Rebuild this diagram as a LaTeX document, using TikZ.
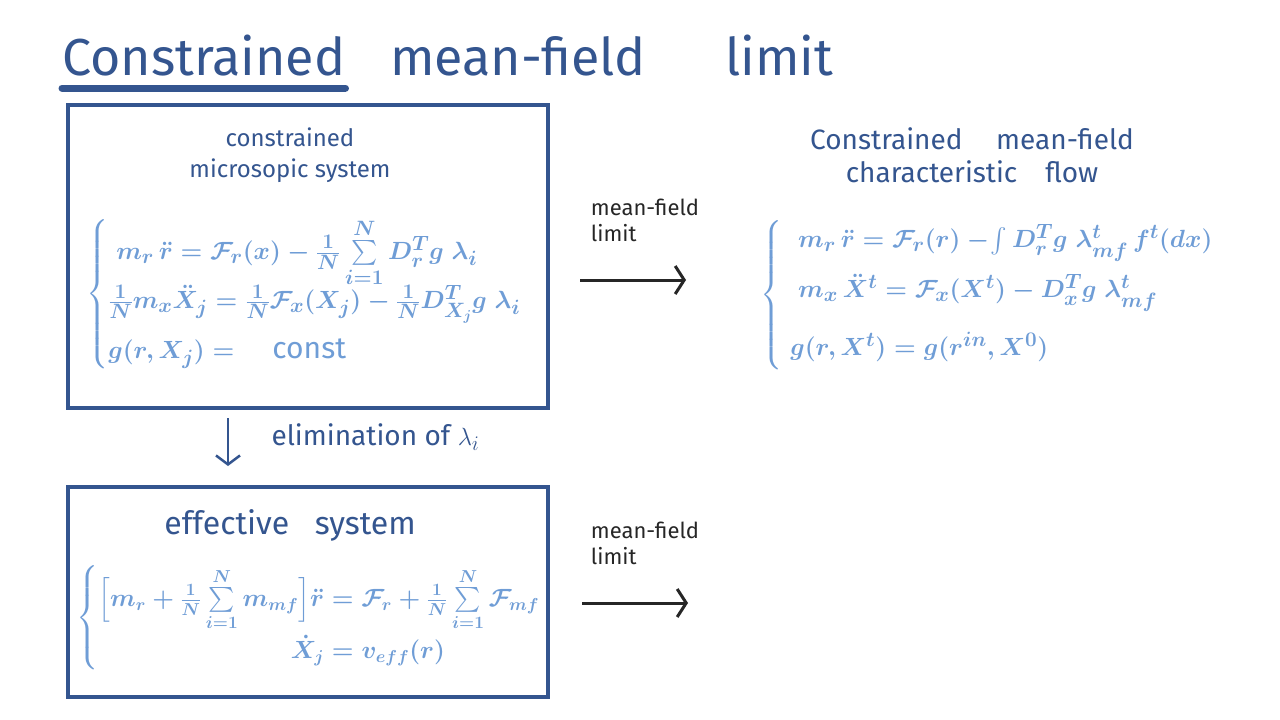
\documentclass[tikz,border=0pt]{standalone}
\usepackage{amsmath}
\usepackage{fontspec}
\setmainfont{Fira Sans}
\usepackage{tikz}
\usetikzlibrary{arrows.meta}
\definecolor{inkblue}{HTML}{34558F}
\definecolor{eqblue}{HTML}{6F9DD6}
\definecolor{penblack}{HTML}{262626}
\tikzset{
    panel/.style={draw=inkblue, line width=4.5pt, minimum width=480pt, minimum height=303pt},
    titletext/.style={text=inkblue, font=\fontsize{52}{56}\selectfont, anchor=base west, inner sep=0pt},
    heading/.style={text=inkblue, align=center, font=\fontsize{24}{31}\selectfont},
    eqs/.style={text=eqblue, font=\fontsize{30}{34}\selectfont\boldmath, anchor=west, inner sep=0pt},
    % arrows
    limitlabel/.style={text=penblack, align=left, font=\fontsize{22}{26}\selectfont},
    limitarrow/.style={-{Straight Barb[length=9pt,width=28pt]}, line width=3pt, penblack},
    elimarrow/.style={-{Straight Barb[length=9pt,width=24pt]}, line width=2.5pt, inkblue}
}

\begin{document}
\begin{tikzpicture}[x=1pt, y=-1pt]
    \fill[white] (0,0) rectangle (1280,720);
    \useasboundingbox (0,0) rectangle (1280,720);

    % Title at the top
    \node[titletext] (titleA) at (62,75) {Constrained};
    \node[titletext] (titleB) at (390,75) {mean-field};
    \node[titletext] (titleC) at (725,75) {limit};
    \draw[inkblue, line width=7pt, line cap=round] ([yshift=-13pt]titleA.base west) -- ([yshift=-13pt]titleA.base east);

    % Constrained microscopic system
    \node[panel, minimum height=303pt] (micro) at (308,256.5) {};
    \node[heading] (microhead) at (290,155) {constrained\\microsopic system};
    \node[eqs] (microeqs) at (86,294) {$\left\{\begin{array}{@{}l@{}}
        \;m_r\,\ddot r = \mathcal{F}_r(x) - \tfrac{1}{N}\sum\limits_{i=1}^{N} D^{T}_{r}g\;\lambda_i\\[-2pt]
        \tfrac{1}{N}m_x\ddot X_j = \tfrac{1}{N}\mathcal{F}_x(X_j) - \tfrac{1}{N}D^{T}_{X_j}g\;\lambda_i\\[16pt]
        g(r,X_j) = \quad \text{const}
    \end{array}\right.$};

    % Constrained mean-field characteristic flow
    \node[heading, font=\fontsize{28}{33}\selectfont] (flowhead) at (972,155) {Constrained\hspace{1.2em}mean-field\\characteristic\hspace{1em}flow};
    \node[eqs] (floweqs) at (760,295) {$\left\{\begin{array}{@{}l@{}}
        \;\;m_r\,\ddot r = \mathcal{F}_r(r) - \!\int D^{T}_{r}g\;\lambda^{t}_{mf}\,f^{t}(dx)\\[16pt]
        \;\;m_x\,\ddot X^{t} = \mathcal{F}_x(X^{t}) - D^{T}_{x}g\;\lambda^{t}_{mf}\\[24pt]
        \;g(r,X^{t}) = g(r^{in},X^{0})
    \end{array}\right.$};

    % Mean-field limit, top
    \coordinate (limitAstart) at (580,280);
    \coordinate (limitAend) at (686,280);
    \draw[limitarrow] (limitAstart) -- (limitAend);
    \node[limitlabel] (limitAlabel) at (645,220) {mean-field\\limit};

    % Elimination step
    \coordinate (elimstart) at (228,418);
    \coordinate (elimend) at (228,466);
    \draw[elimarrow] (elimstart) -- (elimend);
    \node[heading, font=\fontsize{28}{33}\selectfont, anchor=west] (elimlabel) at (268,437) {elimination of $\lambda_i$};

    % Effective system
    \node[panel, minimum height=210pt] (effective) at (308,592) {};
    \node[heading, font=\fontsize{32}{36}\selectfont] (effhead) at (290,525) {effective\hspace{0.8em}system};
    \node[eqs, font=\fontsize{26}{30}\selectfont\boldmath] (effeqs) at (76,618) {$\left\{\begin{array}{@{}r@{\;}l@{}}
        \Bigl[m_r + \tfrac{1}{N}\sum\limits_{i=1}^{N} m_{mf}\Bigr]\ddot r &= \mathcal{F}_r + \tfrac{1}{N}\sum\limits_{i=1}^{N}\mathcal{F}_{mf}\\[20pt]
        \dot X_j &= v_{eff}(r)
    \end{array}\right.$};

    % Mean-field limit, bottom
    \coordinate (limitBstart) at (582,603);
    \coordinate (limitBend) at (688,603);
    \draw[limitarrow] (limitBstart) -- (limitBend);
    \node[limitlabel] (limitBlabel) at (645,543) {mean-field\\limit};
\end{tikzpicture}
\end{document}
